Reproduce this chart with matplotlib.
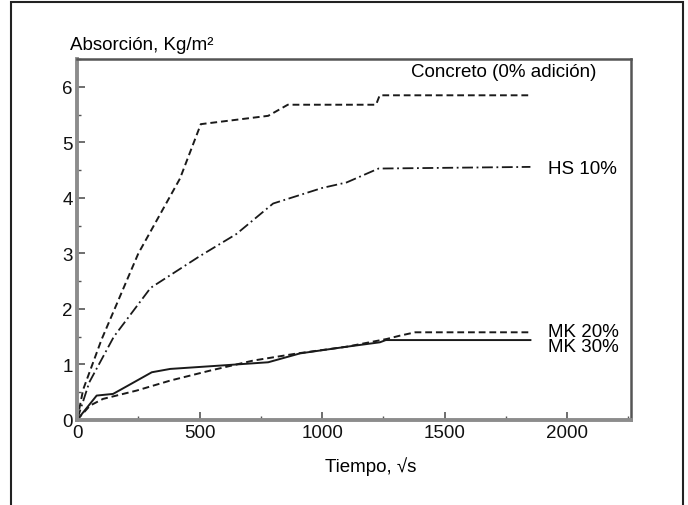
import numpy as np
import matplotlib
matplotlib.use("Agg")
import matplotlib.pyplot as plt
from matplotlib.patches import Rectangle
from matplotlib.ticker import MultipleLocator

plt.rcParams['font.family'] = ['Liberation Sans', 'DejaVu Sans']

# absorption curves, Kg/m2 against sqrt(time)
t_concreto = [0, 25, 100, 250, 420, 505, 780, 860, 1220, 1235, 1850]
a_concreto = [0, 0.55, 1.45, 3.0, 4.35, 5.33, 5.48, 5.68, 5.68, 5.85, 5.85]

t_hs10 = [0, 50, 150, 300, 500, 650, 800, 1000, 1100, 1230, 1850]
a_hs10 = [0, 0.68, 1.5, 2.38, 2.95, 3.35, 3.9, 4.18, 4.28, 4.53, 4.56]

t_mk20 = [0, 53, 106, 243, 380, 543, 718, 900, 1100, 1264, 1318, 1380, 1850]
a_mk20 = [0, 0.26, 0.38, 0.53, 0.71, 0.89, 1.07, 1.2, 1.32, 1.46, 1.52, 1.58, 1.58]

t_mk30 = [0, 80, 147, 208, 305, 380, 583, 780, 910, 1100, 1236, 1260, 1850]
a_mk30 = [0, 0.44, 0.47, 0.62, 0.86, 0.92, 0.98, 1.04, 1.2, 1.32, 1.40, 1.44, 1.44]

fig = plt.figure(figsize=(6.88, 5.06), dpi=100)
ax = fig.add_axes([0.112, 0.168, 0.805, 0.713])

lc = '#1a1a1a'
ax.plot(t_concreto, a_concreto, color=lc, lw=1.4, ls=(0, (3.5, 2)))
ax.plot(t_hs10, a_hs10, color=lc, lw=1.3, ls=(0, (6, 2, 1, 2)))
ax.plot(t_mk20, a_mk20, color=lc, lw=1.4, ls=(0, (3.5, 2)))
ax.plot(t_mk30, a_mk30, color=lc, lw=1.4, ls='-')

fs = 13.5
ax.text(2118, 6.27, 'Concreto (0% adición)', ha='right', va='center', fontsize=fs)
ax.text(1922, 4.54, 'HS 10%', ha='left', va='center', fontsize=fs)
ax.text(1922, 1.6, 'MK 20%', ha='left', va='center', fontsize=fs)
ax.text(1922, 1.32, 'MK 30%', ha='left', va='center', fontsize=fs)

ax.set_xlim(0, 2260)
ax.set_ylim(0, 6.5)
ax.xaxis.set_major_locator(MultipleLocator(500))
ax.xaxis.set_minor_locator(MultipleLocator(250))
ax.yaxis.set_major_locator(MultipleLocator(1))
ax.yaxis.set_minor_locator(MultipleLocator(0.5))
ax.tick_params(which='both', direction='in', colors='#555555', labelcolor='#111111')
ax.tick_params(which='major', length=6, width=1.2, labelsize=13.5, pad=3)
ax.tick_params(which='minor', length=3, width=1.0)

for side in ['left', 'bottom']:
    ax.spines[side].set_color('#8c8c8c')
    ax.spines[side].set_linewidth(2.8)
for side in ['top', 'right']:
    ax.spines[side].set_color('#555555')
    ax.spines[side].set_linewidth(1.8)

ax.set_xlabel('Tiempo, √s', fontsize=fs)
ax.xaxis.set_label_coords(0.53, -0.1)
ax.text(-0.012, 1.04, 'Absorción, Kg/m²', transform=ax.transAxes,
        ha='left', va='center', fontsize=fs)

# outer frame around the whole figure
fig.patches.append(Rectangle((11 / 688, -0.02), 672 / 688, 1.02 - 3 / 506,
                             transform=fig.transFigure, fill=False,
                             edgecolor='#222222', lw=1.5))

fig.savefig('out.png', dpi=100)
